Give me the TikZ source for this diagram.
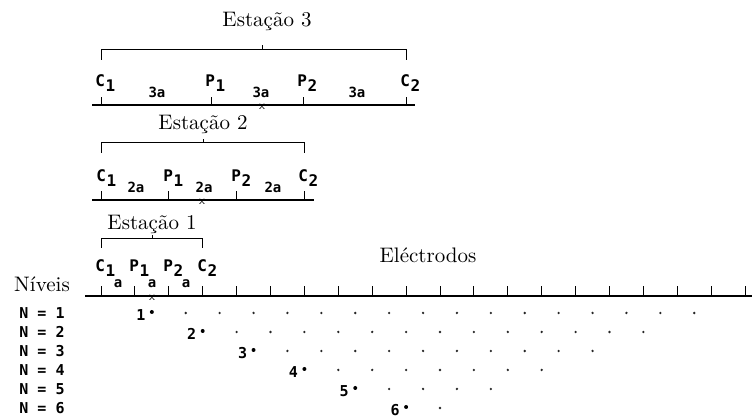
\documentclass[tikz,border=0pt]{standalone}
\usepackage{fontspec}
\usepackage{tikz}
\usetikzlibrary{calc}

\newfontfamily\lblfont{DejaVu Sans Mono}
\newcommand{\elec}[2]{#1\hspace{0.3pt}\raisebox{-2.5pt}{#2}}

\begin{document}
\begin{tikzpicture}[
    x=0.5pt, y=-0.5pt,
    ttl/.style={font=\fontsize{10.5}{12}\selectfont, inner sep=0pt, anchor=base},
    elab/.style={font=\fontsize{8}{9}\selectfont\lblfont\bfseries,
                 inner sep=0pt, anchor=base west},
    slab/.style={font=\fontsize{7}{8}\selectfont\lblfont\bfseries,
                 inner sep=0pt, anchor=base},
    nlab/.style={font=\fontsize{7.5}{8}\selectfont\lblfont\bfseries, inner sep=0pt},
    midx/.style={font=\fontsize{6}{6}\selectfont\sffamily, inner sep=0pt, anchor=north},
    baseline/.style={line width=0.75pt},
    tick/.style={line width=0.5pt},
    brace/.style={line width=0.5pt},
    bigdot/.style={circle, fill, inner sep=0pt, minimum size=2pt},
    smalldot/.style={circle, fill=black!85, inner sep=0pt, minimum size=1.3pt}
]
    \useasboundingbox (0,0) rectangle (752,416);

    % Electrodes
    \foreach \k in {0,...,19}
        \coordinate (e\k) at ({101+33.9*\k},296);
    \coordinate (L0) at (85,296);
    \coordinate (L1) at (752,296);
    \draw[baseline] (L0) -- (L1);
    \foreach \k in {0,...,19}
        \draw[tick] (e\k) -- ++(0,-10);
    \node[ttl] (Tel) at (428,263) {Eléctrodos};
    \node[ttl] (Tniv) at (42,292) {Níveis};

    % Station 3
    \node[ttl] (T3) at (267,27) {Estação 3};
    \draw[brace] (101,60) -- (101,50) -- (406,50) -- (406,60);
    \draw[brace] (262,50) -- (262,45);
    \draw[baseline] (92,105) -- (415,105);
    \foreach \x in {101,211,303,406}
        \draw[tick] (\x,105) -- (\x,97);
    \node[elab] (C1c) at (95,87) {\elec{C}{1}};
    \node[elab] (P1c) at (205,87) {\elec{P}{1}};
    \node[elab] (P2c) at (297,87) {\elec{P}{2}};
    \node[elab] (C2c) at (400,87) {\elec{C}{2}};
    \node[slab] (A3a) at (157,98) {3a};
    \node[slab] (A3b) at (261,98) {3a};
    \node[slab] (A3c) at (357,98) {3a};
    \node[midx] (X3) at (262,104) {x};

    % Station 2
    \node[ttl] (T2) at (203,130) {Estação 2};
    \draw[brace] (e0 |- 0,153) -- (e0 |- 0,143) -- (e6 |- 0,143) -- (e6 |- 0,153);
    \draw[brace] (203,143) -- (203,139);
    \draw[baseline] (92,200) -- (314,200);
    \foreach \k in {0,2,4,6}
        \draw[tick] (e\k |- 0,200) -- ++(0,-9);
    \node[elab] (C1b) at (96,182) {\elec{C}{1}};
    \node[elab] (P1b) at (163,182) {\elec{P}{1}};
    \node[elab] (P2b) at (231,182) {\elec{P}{2}};
    \node[elab] (C2b) at (298,182) {\elec{C}{2}};
    \node[slab] (A2a) at (136,193) {2a};
    \node[slab] (A2b) at (204,193) {2a};
    \node[slab] (A2c) at (273,193) {2a};
    \node[midx] (X2) at (202,199) {x};

    % Station 1
    \node[ttl] (T1) at (152,230) {Estação 1};
    \draw[brace] (e0 |- 0,248) -- (e0 |- 0,239) -- (e3 |- 0,239) -- (e3 |- 0,248);
    \draw[brace] (152,239) -- (152,235);
    \node[elab] (C1a) at (95,272) {\elec{C}{1}};
    \node[elab] (P1a) at (129,272) {\elec{P}{1}};
    \node[elab] (P2a) at (163,272) {\elec{P}{2}};
    \node[elab] (C2a) at (197,272) {\elec{C}{2}};
    \node[slab] (A1a) at (118,288) {a};
    \node[slab] (A1b) at (152,288) {a};
    \node[slab] (A1c) at (186,288) {a};
    \node[midx] (X1) at (152,295) {x};

    % Levels and pseudo-section points
    \foreach \n in {1,...,6} {
        \pgfmathsetmacro{\yy}{313+19*(\n-1)}
        \pgfmathtruncatemacro{\last}{19-3*\n}
        \node[nlab] (N\n) at (42,\yy) {N = \n};
        \node[bigdot] (p\n-0) at ({101+33.9*1.5*\n},\yy-1) {};
        \node[nlab] (q\n) at ($(p\n-0)+(-11,3)$) {\n};
        \foreach \j in {1,...,\last}
            \node[smalldot] (p\n-\j) at ({101+33.9*(1.5*\n+\j)},\yy) {};
    }
\end{tikzpicture}
\end{document}
